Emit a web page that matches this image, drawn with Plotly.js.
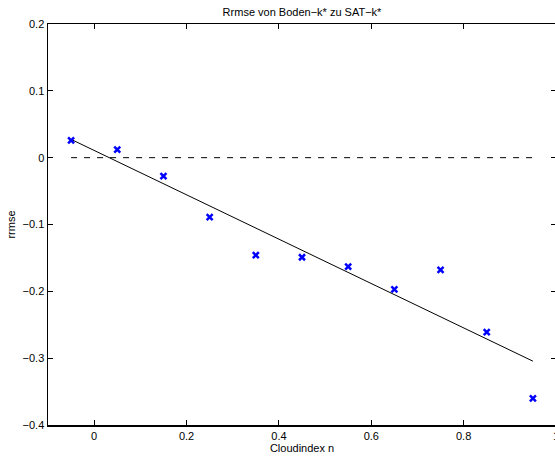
<!DOCTYPE html>
<html>
<head>
<meta charset="utf-8">
<script src="https://cdn.plot.ly/plotly-3.0.1.min.js"></script>
<style>
html, body { margin: 0; padding: 0; overflow: hidden; background: #fff; }
#chart { width: 560px; height: 456px; }
</style>
</head>
<body>
<div id="chart"></div>
<script>
// Data
const cloudIndex = [-0.05, 0.05, 0.15, 0.25, 0.35, 0.45, 0.55, 0.65, 0.75, 0.85, 0.95];
const rrmse = [0.026, 0.012, -0.0275, -0.089, -0.146, -0.149, -0.163, -0.197, -0.168, -0.261, -0.360];
const fitX = [-0.05, 0.95];
const fitY = [0.0274, -0.3045];
const zeroX = [-0.05, 0.95];
const zeroY = [0, 0];
const xTicks = [0, 0.2, 0.4, 0.6, 0.8, 1];
const xTickText = ['0', '0.2', '0.4', '0.6', '0.8', '1'];
const yTicks = [-0.4, -0.3, -0.2, -0.1, 0, 0.1, 0.2];
const yTickText = ['\u22120.4', '\u22120.3', '\u22120.2', '\u22120.1', '0', '0.1', '0.2'];

const font = 'Liberation Sans, Arial, Helvetica, sans-serif';

const traces = [
  {
    x: zeroX, y: zeroY, type: 'scatter', mode: 'lines',
    line: { color: 'black', width: 1, dash: '6px,7px' },
    hoverinfo: 'skip', showlegend: false
  },
  {
    x: fitX, y: fitY, type: 'scatter', mode: 'lines',
    line: { color: 'black', width: 1 },
    showlegend: false
  },
  {
    x: cloudIndex, y: rrmse, type: 'scatter', mode: 'markers',
    marker: { symbol: 'x-thin-open', size: 6, color: '#0000ff', line: { color: '#0000ff', width: 2.5 } },
    showlegend: false
  }
];

const layout = {
  width: 560, height: 456,
  margin: { l: 48, r: 4, t: 24, b: 31, pad: 0 },
  paper_bgcolor: 'white', plot_bgcolor: 'white',
  font: { family: font, size: 11, color: 'black' },
  showlegend: false,
  title: {
    text: 'Rrmse von Boden\u2212k* zu SAT\u2212k*',
    font: { family: font, size: 11, color: 'black' },
    x: 302 / 560, xanchor: 'center',
    y: 1 - 12 / 456, yanchor: 'middle'
  },
  xaxis: {
    range: [-0.1, 1], tickmode: 'array', tickvals: xTicks, ticktext: xTickText,
    ticks: 'inside', ticklen: 5, tickwidth: 1, tickcolor: 'black',
    showline: true, linecolor: 'black', linewidth: 1.5, mirror: 'ticks',
    showgrid: false, zeroline: false,
    tickfont: { family: font, size: 11, color: 'black' },
    title: { text: 'Cloudindex n', font: { family: font, size: 11, color: 'black' }, standoff: 2 },
    automargin: false, fixedrange: true
  },
  yaxis: {
    range: [-0.4, 0.2], tickmode: 'array', tickvals: yTicks, ticktext: yTickText,
    ticks: 'inside', ticklen: 5, tickwidth: 1, tickcolor: 'black',
    showline: true, linecolor: 'black', linewidth: 1.5, mirror: 'ticks',
    showgrid: false, zeroline: false,
    tickfont: { family: font, size: 11, color: 'black' },
    title: { text: 'rrmse', font: { family: font, size: 11, color: 'black' }, standoff: 4 },
    automargin: false, fixedrange: true
  }
};

Plotly.newPlot('chart', traces, layout, { displayModeBar: false, staticPlot: true });
</script>
</body>
</html>
